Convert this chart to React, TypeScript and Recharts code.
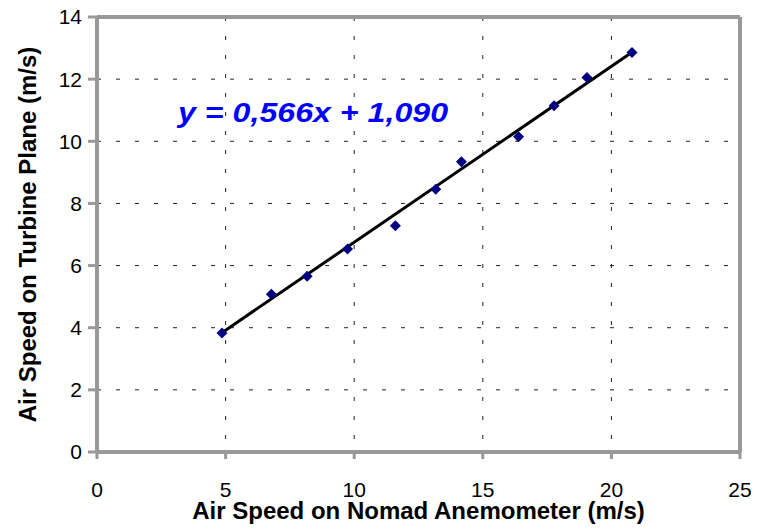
import { CartesianGrid, Label, ReferenceDot, ReferenceLine, Scatter, ScatterChart, XAxis, YAxis } from 'recharts';

// values
const nomadSpeed = [4.86, 6.78, 8.17, 9.74, 11.6, 13.17, 14.17, 16.39, 17.77, 19.05, 20.8];
const turbineSpeed = [3.83, 5.08, 5.66, 6.53, 7.28, 8.46, 9.34, 10.15, 11.14, 12.05, 12.86];
const xTicks = [0, 5, 10, 15, 20, 25];
const yTicks = [0, 2, 4, 6, 8, 10, 12, 14];

// trendline shown on the chart
const slope = 0.566;
const intercept = 1.09;
const equation = 'y = 0,566x + 1,090';

const points = nomadSpeed.map((x, i) => ({ x, y: turbineSpeed[i] }));
const xMin = Math.min(...nomadSpeed);
const xMax = Math.max(...nomadSpeed);
const trendSegment = [
  { x: xMin, y: slope * xMin + intercept },
  { x: xMax, y: slope * xMax + intercept },
];

const GREY = '#999999';
const FONT = '"Liberation Sans", Arial, sans-serif';

const Diamond = (props: any) => {
  const { cx, cy } = props;
  const r = 5.5;
  return <polygon points={`${cx},${cy - r} ${cx + r},${cy} ${cx},${cy + r} ${cx - r},${cy}`} fill="#000080" />;
};

const EquationText = (props: any) => {
  const vb = props.viewBox || {};
  return (
    <text
      x={vb.x}
      y={vb.y}
      textAnchor="middle"
      fill="#0000FF"
      fontSize={27}
      fontWeight="bold"
      fontStyle="italic"
      fontFamily={FONT}
      textLength={270}
      lengthAdjust="spacingAndGlyphs"
    >
      {equation}
    </text>
  );
};

export default function App() {
  return (
    <div style={{ position: 'absolute', left: 0, top: 0, width: 757, height: 531, background: '#fff', fontFamily: FONT }}>
      <ScatterChart width={757} height={531} margin={{ top: 17, right: 17, bottom: 0, left: 0 }}>
        <CartesianGrid stroke="#222" strokeDasharray="4 15" />
        <XAxis
          type="number"
          dataKey="x"
          domain={[0, 25]}
          ticks={xTicks}
          height={79}
          axisLine={{ stroke: GREY, strokeWidth: 4 }}
          tickLine={{ stroke: GREY, strokeWidth: 3 }}
          tickSize={7}
          tickMargin={23}
          tick={{ fill: '#000', fontSize: 21, fontFamily: FONT }}
        >
          <Label
            value="Air Speed on Nomad Anemometer (m/s)"
            position="insideBottom"
            offset={12}
            fill="#000"
            fontSize={24}
            fontWeight="bold"
            fontFamily={FONT}
          />
        </XAxis>
        <YAxis
          type="number"
          dataKey="y"
          domain={[0, 14]}
          ticks={yTicks}
          width={97}
          axisLine={{ stroke: GREY, strokeWidth: 4 }}
          tickLine={{ stroke: GREY, strokeWidth: 3 }}
          tickSize={9}
          tickMargin={6}
          tick={{ fill: '#000', fontSize: 21, fontFamily: FONT }}
        >
          <Label
            value="Air Speed on Turbine Plane (m/s)"
            angle={-90}
            position="insideLeft"
            offset={27}
            fill="#000"
            fontSize={24}
            fontWeight="bold"
            fontFamily={FONT}
            style={{ textAnchor: 'middle' }}
          />
        </YAxis>
        <ReferenceLine y={14} stroke={GREY} strokeWidth={4} />
        <ReferenceLine x={25} stroke={GREY} strokeWidth={4} />
        <Scatter data={points} shape={<Diamond />} isAnimationActive={false} />
        <ReferenceLine
          segment={[trendSegment[0], trendSegment[1]]}
          stroke="#000"
          strokeWidth={3}
        />
        <ReferenceDot x={8.4} y={10.62} r={0} stroke="none" label={<EquationText />} />
      </ScatterChart>
    </div>
  );
}
